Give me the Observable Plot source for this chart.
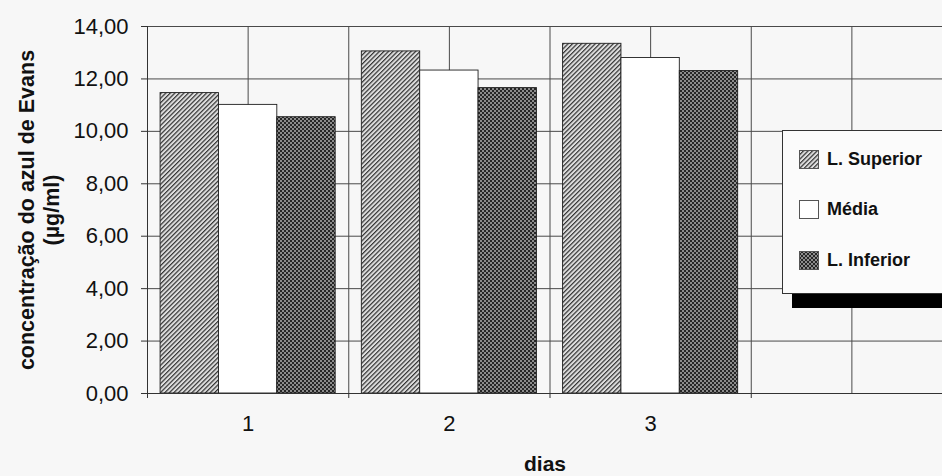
<!DOCTYPE html>
<html>
<head>
<meta charset="utf-8">
<script src="https://cdn.jsdelivr.net/npm/d3@7"></script>
<script src="https://cdn.jsdelivr.net/npm/@observablehq/plot@0.6"></script>
<style>
  html, body { margin: 0; padding: 0; background: #f7f7f7; overflow: hidden; }
  #wrap { position: relative; width: 942px; height: 476px; font-family: "Liberation Sans", Arial, sans-serif; }
  #legend {
    position: absolute; left: 782px; top: 130px; width: 180px; height: 162px;
    background: #fbfbfb; border: 1px solid #333; box-shadow: 10px 14px 0 #000;
  }
  .item { position: absolute; left: 16px; display: flex; align-items: center; font-weight: bold; font-size: 18px; color: #111; }
  .item svg { margin-right: 8px; }
</style>
</head>
<body>
<!-- fill patterns shared by bars and legend swatches -->
<svg width="0" height="0" style="position:absolute">
  <defs>
    <pattern id="hatch" width="3.2" height="3.2" patternUnits="userSpaceOnUse" patternTransform="rotate(45)">
      <rect width="3.2" height="3.2" fill="#dedede"></rect>
      <line x1="0.6" y1="0" x2="0.6" y2="3.2" stroke="#333" stroke-width="1.2"></line>
    </pattern>
    <pattern id="checker" width="4" height="4" patternUnits="userSpaceOnUse">
      <rect width="4" height="4" fill="#262626"></rect>
      <rect x="0" y="0" width="2" height="2" fill="#8c8c8c"></rect>
      <rect x="2" y="2" width="2" height="2" fill="#8c8c8c"></rect>
    </pattern>
  </defs>
</svg>
<div id="wrap">
  <div id="chart"></div>
  <div id="legend"></div>
</div>
<script>
// Dias de coleta e séries
const days = [1, 2, 3];
const series = ["L. Superior", "Média", "L. Inferior"];
const lSuperior = [11.46, 13.05, 13.34];
const media = [11.01, 12.32, 12.80];
const lInferior = [10.54, 11.65, 12.30];
const yTicks = [0, 2, 4, 6, 8, 10, 12, 14];
const xGrid = [1, 1.5, 2, 2.5, 3, 3.5, 4, 4.5];
const xBounds = [0.5, 1.5, 2.5, 3.5, 4.5];
const fills = ["url(#hatch)", "#ffffff", "url(#checker)"];

const valuesBySeries = [lSuperior, media, lInferior];
const rows = [];
const pad = 0.065;
const barW = (1 - 2 * pad) / series.length;
days.forEach((d, i) => {
  series.forEach((s, j) => {
    const x1 = d - 0.5 + pad + j * barW;
    rows.push({day: d, series: s, value: valuesBySeries[j][i], x1, x2: x1 + barW});
  });
});

const fmt = v => v.toFixed(2).replace(".", ",");
const font = "'Liberation Sans', Arial, sans-serif";

const chart = Plot.plot({
  width: 942,
  height: 476,
  marginLeft: 147,
  marginRight: 0,
  marginTop: 26,
  marginBottom: 83,
  style: {background: "transparent", fontFamily: font, color: "#111"},
  x: {type: "linear", domain: [0.5, 4.5], range: [147, 952], axis: null},
  y: {domain: [0, 14], axis: null},
  color: {domain: series, range: fills},
  marks: [
    Plot.ruleY(yTicks.filter(t => t > 0), {stroke: "#4a4a4a", strokeWidth: 1}),
    Plot.ruleX(xGrid, {y1: 0, y2: 14, stroke: "#4a4a4a", strokeWidth: 1}),
    Plot.rectY(rows, {x1: "x1", x2: "x2", y: "value", fill: "series", stroke: "#1e1e1e", strokeWidth: 0.9}),
    Plot.ruleX([0.5], {y1: 0, y2: 14, stroke: "#333", strokeWidth: 1}),
    Plot.ruleY([0], {stroke: "#333", strokeWidth: 1.2}),
    Plot.axisY({ticks: yTicks, tickFormat: fmt, tickSize: 6, tickPadding: 13, fontSize: 22, stroke: "#333", label: null}),
    Plot.axisX({ticks: xBounds, tickFormat: () => "", tickSize: 5, stroke: "#333", label: null}),
    Plot.axisX({ticks: days, tickFormat: d => String(d), tickSize: 0, tickPadding: 22, fontSize: 22, label: null}),
    Plot.text(["concentração do azul de Evans\n(µg/ml)"], {
      frameAnchor: "left", dx: -109, rotate: -90, fontSize: 21.5, fontWeight: "bold",
      lineHeight: 1.17, textAnchor: "middle", fill: "#111"
    }),
    Plot.text(["dias"], {frameAnchor: "bottom", dy: 77, fontSize: 21, fontWeight: "bold", fill: "#111"})
  ]
});
document.getElementById("chart").appendChild(chart);

// Legenda com amostras das mesmas texturas
const legend = d3.select("#legend");
const rowTops = [18, 68, 119];
series.forEach((s, i) => {
  const item = legend.append("div").attr("class", "item").style("top", rowTops[i] + "px");
  const sw = item.append("svg").attr("width", 20).attr("height", 19);
  sw.append("rect").attr("x", 0.5).attr("y", 0.5).attr("width", 19).attr("height", 18)
    .attr("fill", fills[i]).attr("stroke", "#555").attr("stroke-width", 1);
  item.append("span").text(s);
});
</script>
</body>
</html>
